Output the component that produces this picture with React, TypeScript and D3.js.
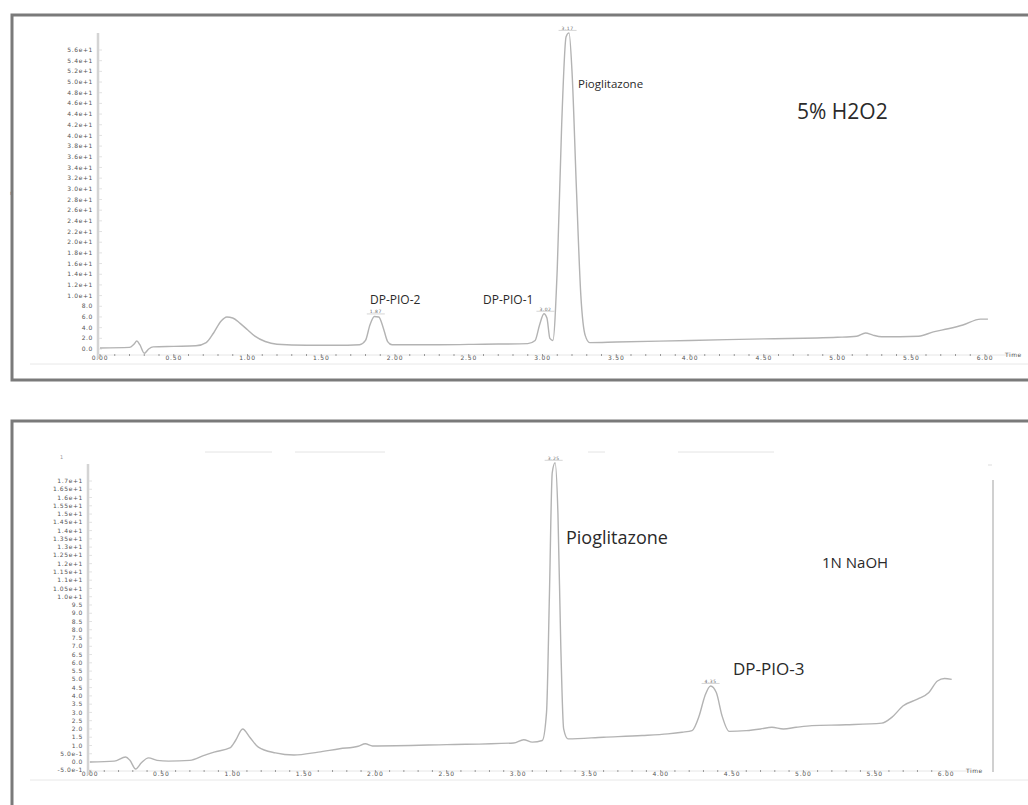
import React from "react";
import { scaleLinear, line, curveMonotoneX } from "d3";

// ---- 5% H2O2 chromatogram (time in min, response) ----
const topTime = [0.0, 0.2, 0.23, 0.25, 0.27, 0.3, 0.33, 0.36, 0.5, 0.65, 0.72, 0.77, 0.82, 0.86, 0.9, 0.95, 1.0, 1.05, 1.12, 1.2, 1.4, 1.6, 1.76, 1.8, 1.83, 1.86, 1.89, 1.92, 1.95, 1.98, 2.3, 2.6, 2.9, 2.95, 2.98, 3.01, 3.03, 3.05, 3.07, 3.1, 3.13, 3.16, 3.18, 3.2, 3.23, 3.26, 3.29, 3.32, 3.5, 4.0, 4.5, 5.0, 5.13, 5.19, 5.24, 5.3, 5.55, 5.65, 5.75, 5.85, 5.97, 6.02];
const topSignal = [0.2, 0.3, 0.9, 1.5, 0.8, -0.8, 0.0, 0.4, 0.5, 0.6, 1.2, 3.0, 5.2, 6.0, 5.8, 4.8, 3.6, 2.4, 1.4, 0.9, 0.7, 0.7, 0.8, 1.6, 4.5, 6.1, 6.0, 4.0, 1.4, 0.8, 0.8, 0.9, 1.0, 1.6, 4.5, 6.6, 5.8, 2.0, 1.6, 15, 42, 58.5, 59.2, 52, 30, 10, 2.5, 1.2, 1.3, 1.6, 1.9, 2.2, 2.4, 3.0, 2.6, 2.3, 2.4, 3.2, 3.8, 4.5, 5.6, 5.6];
const topYTicks = [0, 2, 4, 6, 8, 10, 12, 14, 16, 18, 20, 22, 24, 26, 28, 30, 32, 34, 36, 38, 40, 42, 44, 46, 48, 50, 52, 54, 56];
const topYLabels = ["0.0", "2.0", "4.0", "6.0", "8.0", "1.0e+1", "1.2e+1", "1.4e+1", "1.6e+1", "1.8e+1", "2.0e+1", "2.2e+1", "2.4e+1", "2.6e+1", "2.8e+1", "3.0e+1", "3.2e+1", "3.4e+1", "3.6e+1", "3.8e+1", "4.0e+1", "4.2e+1", "4.4e+1", "4.6e+1", "4.8e+1", "5.0e+1", "5.2e+1", "5.4e+1", "5.6e+1"];
const topPeaks = [
  { t: 1.87, v: 6.1, label: "1.87" },
  { t: 3.02, v: 6.6, label: "3.02" },
  { t: 3.17, v: 59.2, label: "3.17" },
];

// ---- 1N NaOH chromatogram ----
const bottomTime = [0.0, 0.17, 0.25, 0.28, 0.32, 0.36, 0.41, 0.47, 0.55, 0.7, 0.8, 0.87, 0.98, 1.02, 1.07, 1.12, 1.18, 1.3, 1.43, 1.6, 1.75, 1.88, 1.93, 1.98, 2.5, 2.97, 3.04, 3.1, 3.17, 3.2, 3.22, 3.24, 3.26, 3.28, 3.3, 3.32, 3.35, 3.6, 3.87, 4.05, 4.15, 4.22, 4.27, 4.31, 4.35, 4.39, 4.43, 4.48, 4.6, 4.7, 4.78, 4.86, 4.95, 5.06, 5.3, 5.55, 5.62, 5.7, 5.8, 5.88, 5.94, 5.99, 6.04];
const bottomSignal = [0.0, 0.05, 0.3, 0.1, -0.42, -0.05, 0.25, 0.1, 0.05, 0.1, 0.4, 0.6, 0.85, 1.3, 2.0, 1.5, 0.9, 0.55, 0.42, 0.6, 0.8, 0.95, 1.1, 0.97, 1.05, 1.15, 1.35, 1.2, 1.3, 3.0, 10, 17.5, 18.1, 15, 7, 2.0, 1.4, 1.5, 1.6, 1.7, 1.8, 1.9, 2.8, 4.0, 4.6, 4.2, 2.8, 1.85, 1.9, 2.0, 2.1, 2.0, 2.1, 2.2, 2.25, 2.35, 2.7, 3.4, 3.8, 4.2, 4.9, 5.05, 5.0];
const bottomYTicks = [-0.5, 0, 0.5, 1, 1.5, 2, 2.5, 3, 3.5, 4, 4.5, 5, 5.5, 6, 6.5, 7, 7.5, 8, 8.5, 9, 9.5, 10, 10.5, 11, 11.5, 12, 12.5, 13, 13.5, 14, 14.5, 15, 15.5, 16, 16.5, 17];
const bottomYLabels = ["-5.0e-1", "0.0", "5.0e-1", "1.0", "1.5", "2.0", "2.5", "3.0", "3.5", "4.0", "4.5", "5.0", "5.5", "6.0", "6.5", "7.0", "7.5", "8.0", "8.5", "9.0", "9.5", "1.0e+1", "1.05e+1", "1.1e+1", "1.15e+1", "1.2e+1", "1.25e+1", "1.3e+1", "1.35e+1", "1.4e+1", "1.45e+1", "1.5e+1", "1.55e+1", "1.6e+1", "1.65e+1", "1.7e+1"];
const bottomPeaks = [
  { t: 3.25, v: 18.1, label: "3.25" },
  { t: 4.35, v: 4.6, label: "4.35" },
];

const xTicks = [0, 0.5, 1, 1.5, 2, 2.5, 3, 3.5, 4, 4.5, 5, 5.5, 6];
const xLabels = ["0.00", "0.50", "1.00", "1.50", "2.00", "2.50", "3.00", "3.50", "4.00", "4.50", "5.00", "5.50", "6.00"];
const xMinor = [0, 0.1, 0.2, 0.3, 0.4, 0.5, 0.6, 0.7, 0.8, 0.9, 1, 1.1, 1.2, 1.3, 1.4, 1.5, 1.6, 1.7, 1.8, 1.9, 2, 2.1, 2.2, 2.3, 2.4, 2.5, 2.6, 2.7, 2.8, 2.9, 3, 3.1, 3.2, 3.3, 3.4, 3.5, 3.6, 3.7, 3.8, 3.9, 4, 4.1, 4.2, 4.3, 4.4, 4.5, 4.6, 4.7, 4.8, 4.9, 5, 5.1, 5.2, 5.3, 5.4, 5.5, 5.6, 5.7, 5.8, 5.9, 6];

const tickFont = "DejaVu Sans";
const labelFont = "Open Sans";
const traceColor = "#b3b3b3";
const axisColor = "#d4d4d4";

type Note = { text: string; x: number; y: number; size: number };

function Chromatogram(props: {
  time: number[];
  signal: number[];
  yTicks: number[];
  yLabels: string[];
  peaks: { t: number; v: number; label: string }[];
  xRange: [number, number];
  yDomain: [number, number];
  yRange: [number, number];
  axisX: number;
  axisTop: number;
  xAxisY: number;
  notes: Note[];
}) {
  const { time, signal, yTicks, yLabels, peaks, xRange, yDomain, yRange, axisX, axisTop, xAxisY, notes } = props;
  const x = scaleLinear().domain([0, 6]).range(xRange);
  const y = scaleLinear().domain(yDomain).range(yRange);
  const pts = time.map((t, i) => [t, signal[i]] as [number, number]);
  const path = line<[number, number]>()
    .x((d) => x(d[0]))
    .y((d) => y(d[1]))
    .curve(curveMonotoneX)(pts);

  return (
    <g>
      {/* y axis */}
      <line x1={axisX} x2={axisX} y1={axisTop} y2={xAxisY + 4} stroke={axisColor} strokeWidth={2.5} />
      {yTicks.map((v, i) => (
        <g key={"y" + i}>
          <line x1={axisX + 1} x2={axisX + 4} y1={y(v)} y2={y(v)} stroke="#e2e2e2" strokeWidth={1} />
          <text x={axisX - 5} y={y(v)} dy="0.35em" textAnchor="end" fontFamily={tickFont} fontSize={6} letterSpacing={0.6} fill="#555">
            {yLabels[i]}
          </text>
        </g>
      ))}
      {/* x axis */}
      <line x1={axisX} x2={x(6.2)} y1={xAxisY} y2={xAxisY} stroke="#e6e6e6" strokeWidth={1} />
      <line x1={30} x2={1028} y1={xAxisY + 9} y2={xAxisY + 9} stroke="#e8e8e8" strokeWidth={1} />
      {xMinor.map((t, i) => (
        <line key={"m" + i} x1={x(t)} x2={x(t)} y1={xAxisY - 1} y2={xAxisY + 1} stroke="#999" strokeWidth={1} />
      ))}
      {xTicks.map((t, i) => (
        <text key={"x" + i} x={x(t)} y={xAxisY + 5} textAnchor="middle" fontFamily={tickFont} fontSize={6} letterSpacing={0.8} fill="#555">
          {xLabels[i]}
        </text>
      ))}
      <text x={x(6) + 20} y={xAxisY + 2} fontFamily={tickFont} fontSize={6} letterSpacing={0.5} fill="#555">
        Time
      </text>
      {/* trace */}
      <path d={path || ""} fill="none" stroke={traceColor} strokeWidth={1.4} />
      {/* peak retention times */}
      {peaks.map((p, i) => (
        <g key={"p" + i}>
          <line x1={x(p.t) - 9} x2={x(p.t) + 9} y1={y(p.v) - 2.5} y2={y(p.v) - 2.5} stroke="#ccc" strokeWidth={0.8} />
          <text x={x(p.t)} y={y(p.v) - 3} textAnchor="middle" fontFamily={tickFont} fontSize={4.5} letterSpacing={0.5} fill="#666">
            {p.label}
          </text>
        </g>
      ))}
      {notes.map((n, i) => (
        <text key={"n" + i} x={n.x} y={n.y} dy="0.35em" fontFamily={labelFont} fontSize={n.size} fill="#2a2a2a">
          {n.text}
        </text>
      ))}
    </g>
  );
}

export default function App() {
  return (
    <svg
      width={1028}
      height={805}
      style={{ position: "absolute", left: 0, top: 0, background: "#fff", display: "block" }}
    >
      {/* panel frames */}
      <rect x={12} y={15} width={1100} height={365} fill="none" stroke="#7a7a7a" strokeWidth={3} />
      <rect x={12} y={421} width={1100} height={500} fill="none" stroke="#7a7a7a" strokeWidth={3} />

      <Chromatogram
        time={topTime}
        signal={topSignal}
        yTicks={topYTicks}
        yLabels={topYLabels}
        peaks={topPeaks}
        xRange={[100, 985]}
        yDomain={[0, 56]}
        yRange={[349, 50]}
        axisX={98}
        axisTop={33}
        xAxisY={355}
        notes={[
          { text: "DP-PIO-2", x: 370, y: 300, size: 12 },
          { text: "DP-PIO-1", x: 483, y: 300, size: 12 },
          { text: "Pioglitazone", x: 578, y: 84, size: 11.5 },
          { text: "5% H2O2", x: 797, y: 112, size: 21 },
        ]}
      />
      <text x={10} y={195} fontFamily={tickFont} fontSize={6} fill="#777">r</text>

      <Chromatogram
        time={bottomTime}
        signal={bottomSignal}
        yTicks={bottomYTicks}
        yLabels={bottomYLabels}
        peaks={bottomPeaks}
        xRange={[90, 946]}
        yDomain={[0, 17]}
        yRange={[762, 481]}
        axisX={88}
        axisTop={464}
        xAxisY={771}
        notes={[
          { text: "Pioglitazone", x: 566, y: 538, size: 18 },
          { text: "1N NaOH", x: 822, y: 563, size: 15 },
          { text: "DP-PIO-3", x: 733, y: 669, size: 17 },
        ]}
      />
      <text x={60} y={459} fontFamily={tickFont} fontSize={5} fill="#999">1</text>
      {/* faint top edge fragments and right border of the lower plot */}
      <line x1={205} x2={272} y1={452} y2={452} stroke="#e4e4e4" strokeWidth={1} />
      <line x1={295} x2={385} y1={452} y2={452} stroke="#e4e4e4" strokeWidth={1} />
      <line x1={588} x2={605} y1={452} y2={452} stroke="#e4e4e4" strokeWidth={1} />
      <line x1={678} x2={774} y1={452} y2={452} stroke="#e4e4e4" strokeWidth={1} />
      <line x1={988} x2={992} y1={465} y2={465} stroke="#ddd" strokeWidth={1} />
      <line x1={993} x2={993} y1={480} y2={772} stroke="#d0d0d0" strokeWidth={2} />
    </svg>
  );
}
